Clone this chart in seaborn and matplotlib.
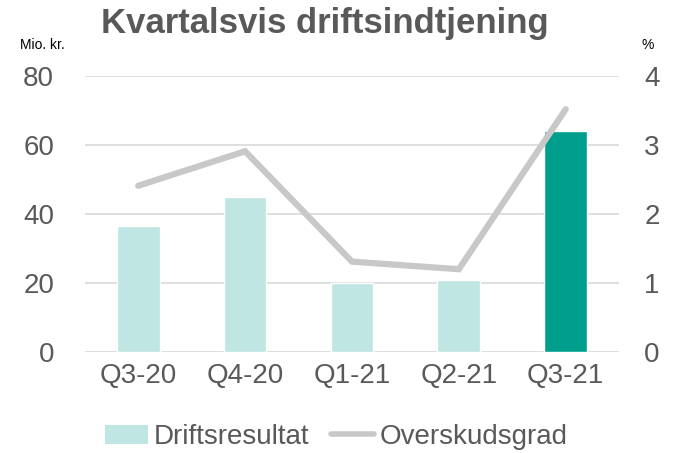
import pandas as pd
import seaborn as sns
import matplotlib.pyplot as plt
from matplotlib.patches import Patch
from matplotlib.lines import Line2D

quarters = ["Q3-20", "Q4-20", "Q1-21", "Q2-21", "Q3-21"]
driftsresultat = [36.5, 44.8, 19.9, 20.9, 64.1]
overskudsgrad = [2.41, 2.91, 1.31, 1.20, 3.52]

light = "#bfe6e2"
dark = "#009e8c"
grey_line = "#c8c8c8"
txt = "#595959"
bar_colors = [light, light, light, light, dark]

df = pd.DataFrame({"Kvartal": quarters, "Driftsresultat": driftsresultat,
                   "Overskudsgrad": overskudsgrad})

sns.set_style("white")
plt.rcParams['font.family'] = ['Liberation Sans', 'DejaVu Sans']

fig = plt.figure(figsize=(6.73, 4.53), dpi=100)
ax = fig.add_axes([0.126, 0.223, 0.794, 0.609])

sns.barplot(data=df, x="Kvartal", y="Driftsresultat", hue="Kvartal",
            palette=bar_colors, width=0.4, legend=False, ax=ax, saturation=1)
ax.set_ylim(0, 80)
ax.set_yticks([0, 20, 40, 60, 80])
ax.set_xlim(-0.5, 4.5)
ax.grid(axis="y", color="#d9d9d9", linewidth=1.2)
ax.set_axisbelow(True)
for s in ax.spines.values():
    s.set_visible(False)
ax.set_xlabel("")
ax.set_ylabel("")
ax.tick_params(axis="both", length=0, labelsize=20, colors=txt, pad=8)
ax.tick_params(axis="y", pad=22)

ax2 = ax.twinx()
sns.lineplot(x=range(len(quarters)), y=overskudsgrad, ax=ax2, color=grey_line,
             linewidth=4.5, solid_capstyle="round", solid_joinstyle="miter")
ax2.set_ylim(0, 4)
ax2.set_yticks([0, 1, 2, 3, 4])
for s in ax2.spines.values():
    s.set_visible(False)
ax2.tick_params(axis="y", length=0, labelsize=20, colors=txt, pad=18)
ax2.set_ylabel("")

fig.text(0.482, 0.948, "Kvartalsvis driftsindtjening", ha="center", va="center",
         fontsize=25, fontweight="bold", color=txt)
fig.text(0.03, 0.9, "Mio. kr.", ha="left", va="center", fontsize=10, color="black")
fig.text(0.962, 0.9, "%", ha="center", va="center", fontsize=10, color="black")

handles = [Patch(facecolor=light, edgecolor="none", label="Driftsresultat"),
           Line2D([0], [0], color=grey_line, linewidth=4, solid_capstyle="round",
                  label="Overskudsgrad")]
fig.legend(handles=handles, loc="center", bbox_to_anchor=(0.5, 0.035), ncol=2,
           frameon=False, fontsize=20, labelcolor=txt, handlelength=1.55,
           handletextpad=0.2, columnspacing=0.8)

fig.savefig("out.png", dpi=100)
